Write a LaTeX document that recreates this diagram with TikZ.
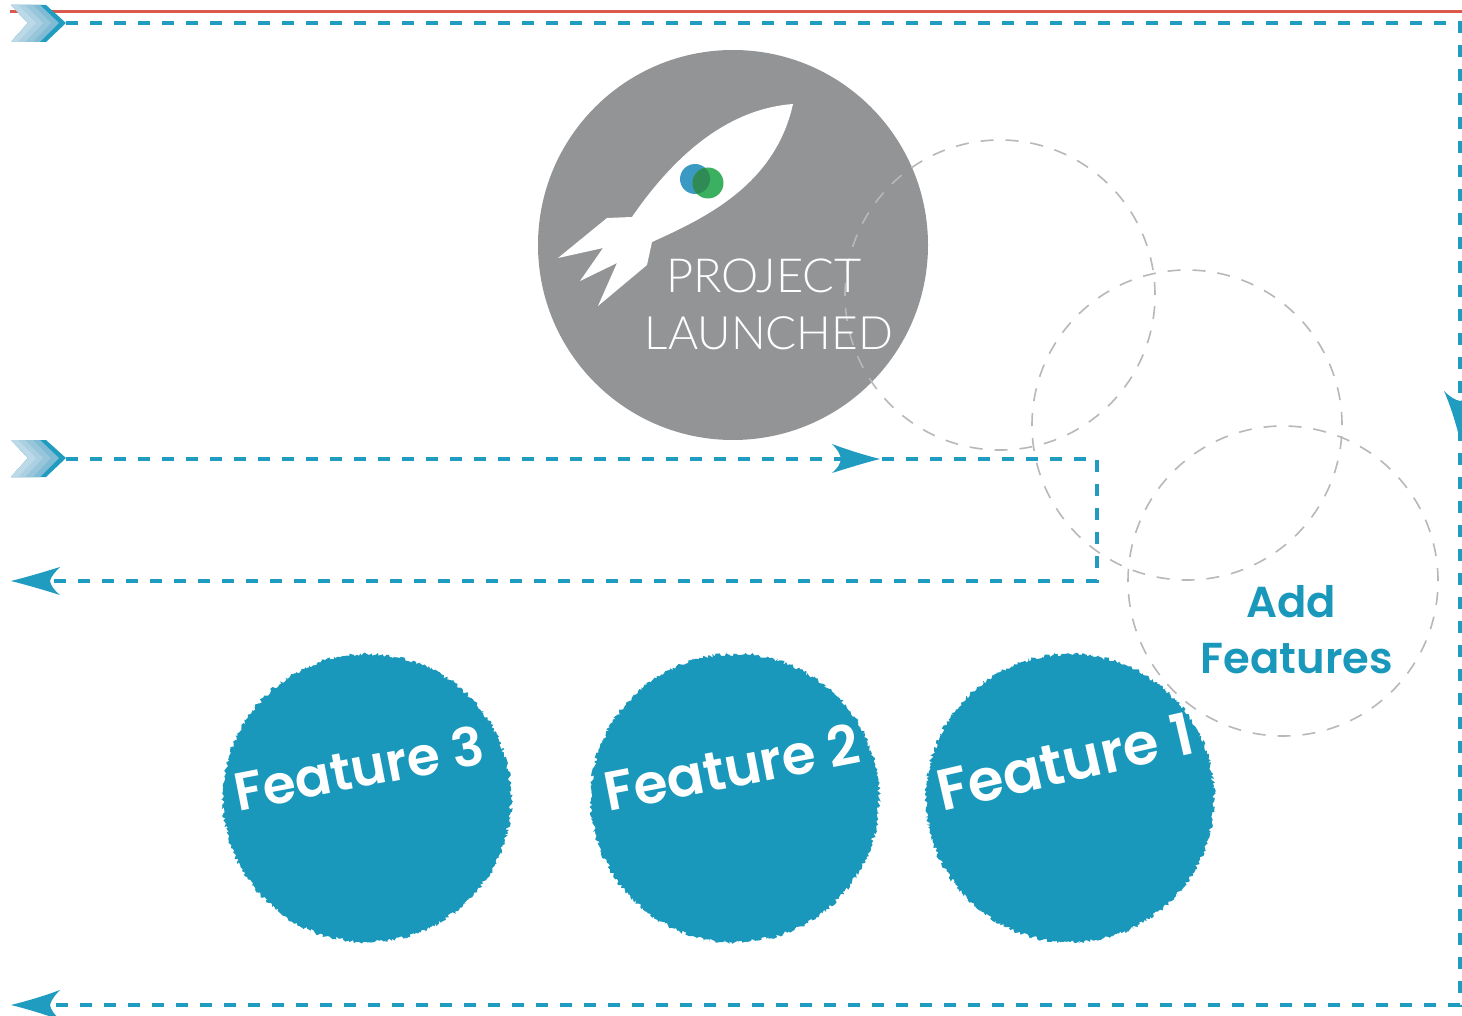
\documentclass[tikz,border=0pt]{standalone}
\usepackage{fontspec}
\setmainfont{Lato}
\newfontfamily\lightf{Lato Light}
\newfontfamily\boldf{Poppins SemiBold}
\usetikzlibrary{decorations.pathmorphing}
\definecolor{teal1}{HTML}{1F9CBF}
\definecolor{featfill}{HTML}{1998BC}
\definecolor{redline}{HTML}{D9594C}
\definecolor{greyc}{HTML}{939496}
\definecolor{ring}{HTML}{B8B8B8}
\definecolor{chevA}{HTML}{7FBBD4}
\definecolor{chevB}{HTML}{97C6DB}
\definecolor{chevC}{HTML}{ABD0E2}
\definecolor{chevD}{HTML}{BCD9E8}
\definecolor{bl1}{HTML}{3A9AC4}
\definecolor{gr1}{HTML}{3BB060}
\definecolor{gr2}{HTML}{2F8A55}
\tikzset{
  tealdash/.style={draw=teal1,line width=3.7pt,dash pattern=on 12pt off 12pt},
  ringc/.style={circle,draw=ring,line width=1.6pt,dash pattern=on 13pt off 12pt,minimum size=310pt,inner sep=0pt},
  feature/.style={circle,fill=featfill,minimum size=288pt,inner sep=0pt,decorate,decoration={random steps,segment length=1.6pt,amplitude=1.9pt}},
  feattext/.style={text=white,inner sep=0pt},
  launchtext/.style={text=white,inner sep=0pt},
  addtext/.style={text=featfill,font=\boldf\fontsize{43.3}{44}\selectfont,inner sep=0pt},
  head/.style={fill=teal1,draw=none},
  chevron/.pic={
    \fill[teal1] (11,-18)--(46,-18)--(66,0)--(46,19)--(11,19)--(28,0)--cycle;
    \fill[chevA] (11,-18)--(40,-18)--(59,0)--(40,19)--(11,19)--(28,0)--cycle;
    \fill[chevB] (11,-18)--(33,-18)--(51,0)--(33,19)--(11,19)--(28,0)--cycle;
    \fill[chevC] (11,-18)--(25,-18)--(43,0)--(25,19)--(11,19)--(28,0)--cycle;
    \fill[chevD] (11,-18)--(18,-18)--(36,0)--(18,19)--(11,19)--(28,0)--cycle;
  }
}
\pgfmathsetseed{4711}
\begin{document}
\begin{tikzpicture}[x=1pt,y=-1pt]
\clip (0,0) rectangle (1462,1016);
\fill[white] (0,0) rectangle (1462,1016);
% anchors
\coordinate (redS) at (10,11.5);
\coordinate (redE) at (1462,11.5);
\coordinate (topS) at (66,23);
\coordinate (topR) at (1460,23);
\coordinate (botR) at (1460,1005);
\coordinate (botL) at (52,1005);
\coordinate (midS) at (66,459);
\coordinate (midR) at (1097,459);
\coordinate (midB) at (1097,581);
\coordinate (midL) at (52,581);
% grey circle
\node[circle,fill=greyc,minimum size=390pt,inner sep=0pt] (launch) at (733,245) {};
% rocket
\fill[white] (793,104) .. controls (740,108) and (685,140) .. (632,217)
  -- (607,218) -- (558,258) -- (603,248) -- (580,281) -- (617,263) -- (598,306) -- (647,265) -- (652,242)
  .. controls (705,218) and (775,185) .. (793,104) -- cycle;
\fill[bl1] (695,179) circle (15);
\fill[gr1] (708,183) circle (15.5);
\begin{scope}
\clip (695,179) circle (15);
\fill[gr2] (708,183) circle (15.5);
\end{scope}
% dashed rings
\node[ringc] (ringA) at (1000,295) {};
\node[ringc] (ringB) at (1187,425) {};
\node[ringc] (ringC) at (1283,581) {};
% lines
\draw[redline,line width=3.6pt] (redS) -- (redE);
\draw[tealdash] (topS) -- (topR) -- (botR) -- (botL);
\draw[tealdash] (midS) -- (midR) -- (midB) -- (midL);
% chevrons
\pic at (0,23) {chevron};
\pic at (0,458) {chevron};
% arrowheads
\fill[head] (880,459) .. controls (864,455) and (848,450) .. (832,444) .. controls (838,450) and (840,454) .. (841,459) .. controls (840,464) and (838,468) .. (832,473) .. controls (848,468) and (864,463) .. cycle;
\fill[head] (11,581) .. controls (27,577) and (44,572) .. (60,567) .. controls (54,573) and (51,577) .. (50,581) .. controls (51,586) and (54,590) .. (60,595) .. controls (44,590) and (27,585) .. cycle;
\fill[head] (11,1005) .. controls (27,1001) and (44,996) .. (60,990) .. controls (54,996) and (51,1001) .. (50,1005) .. controls (51,1010) and (54,1014) .. (60,1020) .. controls (44,1014) and (27,1009) .. cycle;
\fill[head] (1460,440) .. controls (1456,424) and (1451,407) .. (1444,391) .. controls (1450,397) and (1455,400) .. (1460,401) .. controls (1465,400) and (1470,397) .. (1476,391) .. controls (1469,407) and (1464,424) .. cycle;
% features
\node[feature] (f3) at (367,798) {};
\node[feature] (f2) at (735,798) {};
\node[feature] (f1) at (1070,798) {};
\node[feattext,rotate=11,font=\boldf\fontsize{53.5}{55}\selectfont] (t3) at (359,768) {Feature 3};
\node[feattext,rotate=11,font=\boldf\fontsize{55}{57}\selectfont] (t2) at (732,767) {Feature 2};
\node[feattext,rotate=13,font=\boldf\fontsize{58}{59}\selectfont] (t1) at (1065,762) {Feature 1};
% labels
\node[launchtext,font=\lightf\fontsize{47}{47}\selectfont] (p1) at (764,276) {PROJECT};
\node[launchtext,font=\lightf\fontsize{46}{46}\selectfont] (p2) at (769,333) {LAUNCHED};
\node[addtext] (a1) at (1291,602) {Add};
\node[addtext] (a2) at (1297,659) {Features};
\end{tikzpicture}
\end{document}
